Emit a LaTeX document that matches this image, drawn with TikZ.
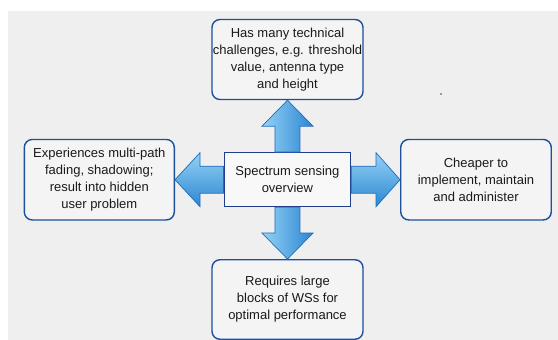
\documentclass[tikz,border=0pt]{standalone}
\usepackage{fontspec}
\setmainfont{Liberation Sans}
\usetikzlibrary{calc}

\definecolor{pagebg}{HTML}{EFEFEF}
\definecolor{boxfill}{HTML}{F4F4F4}
\definecolor{boxline}{HTML}{1C4F9C}
\definecolor{coreline}{HTML}{1F3F8C}
\definecolor{arrowlight}{HTML}{95D2F5}
\definecolor{arrowdark}{HTML}{2B86D2}
\definecolor{arrowline}{HTML}{1E6CBE}
\definecolor{txt}{HTML}{1A1A1A}

\tikzset{
  infobox/.style={draw=boxline, line width=1.4pt, fill=boxfill, rounded corners=8pt,
    inner sep=0pt, align=center, text=txt,
    font=\fontsize{13}{17}\selectfont},
  corebox/.style={draw=coreline, line width=1.3pt, fill=boxfill!60!white,
    inner sep=0pt, align=center, text=txt,
    minimum width=126.5pt, minimum height=54pt,
    font=\fontsize{13}{17}\selectfont},
  harrow/.style={draw=arrowline, line width=0.7pt, top color=arrowlight, bottom color=arrowdark, line join=miter},
  varrow/.style={draw=arrowline, line width=0.7pt, left color=arrowlight, right color=arrowdark, line join=miter},
}

\begin{document}
\begin{tikzpicture}[x=1pt,y=-1pt]
  \useasboundingbox (0,0) rectangle (558,340);
  % page background
  \fill[pagebg] (7.8,11) rectangle (558,340);

  % boxes
  \node[corebox] (core) at (287.4,179.7) {Spectrum sensing\\overview};
  \node[infobox, minimum width=151pt, minimum height=80pt] (up) at (287.5,59.5)
    {Has many technical\\challenges, e.g. threshold\\value, antenna type\\and height};
  \node[infobox, minimum width=150pt, minimum height=80.5pt] (west) at (99.3,179.7)
    {Experiences multi-path\\fading, shadowing;\\result into hidden\\user problem};
  \node[infobox, minimum width=150.5pt, minimum height=80.5pt] (east) at (476,179.7)
    {Cheaper to\\implement, maintain\\and administer};
  \node[infobox, minimum width=151pt, minimum height=79.5pt] (down) at (287.5,299.5)
    {Requires large\\blocks of WSs for\\optimal performance};

  % block arrows from the core box to the outer boxes
  \draw[harrow] ($(core.west)+(0,-13.5)$) -- ($(west.east)+(25,-13.5)$)
    -- ($(west.east)+(25,-27)$) -- (west.east) -- ($(west.east)+(25,27)$)
    -- ($(west.east)+(25,13.5)$) -- ($(core.west)+(0,13.5)$) -- cycle;
  \draw[harrow] ($(core.east)+(0,-13.5)$) -- ($(east.west)+(-24,-13.5)$)
    -- ($(east.west)+(-24,-27)$) -- (east.west) -- ($(east.west)+(-24,27)$)
    -- ($(east.west)+(-24,13.5)$) -- ($(core.east)+(0,13.5)$) -- cycle;
  \draw[varrow] ($(core.north)+(-12.5,0)$) -- ($(up.south)+(-12.5,26)$)
    -- ($(up.south)+(-25.5,26)$) -- (up.south) -- ($(up.south)+(25.5,26)$)
    -- ($(up.south)+(12.5,26)$) -- ($(core.north)+(12.5,0)$) -- cycle;
  \draw[varrow] ($(core.south)+(-12.5,0)$) -- ($(down.north)+(-12.5,-26)$)
    -- ($(down.north)+(-25.5,-26)$) -- (down.north) -- ($(down.north)+(25.5,-26)$)
    -- ($(down.north)+(12.5,-26)$) -- ($(core.south)+(12.5,0)$) -- cycle;

  % stray ink dot
  \fill[boxline] (441,94) circle (0.9pt);
\end{tikzpicture}
\end{document}
